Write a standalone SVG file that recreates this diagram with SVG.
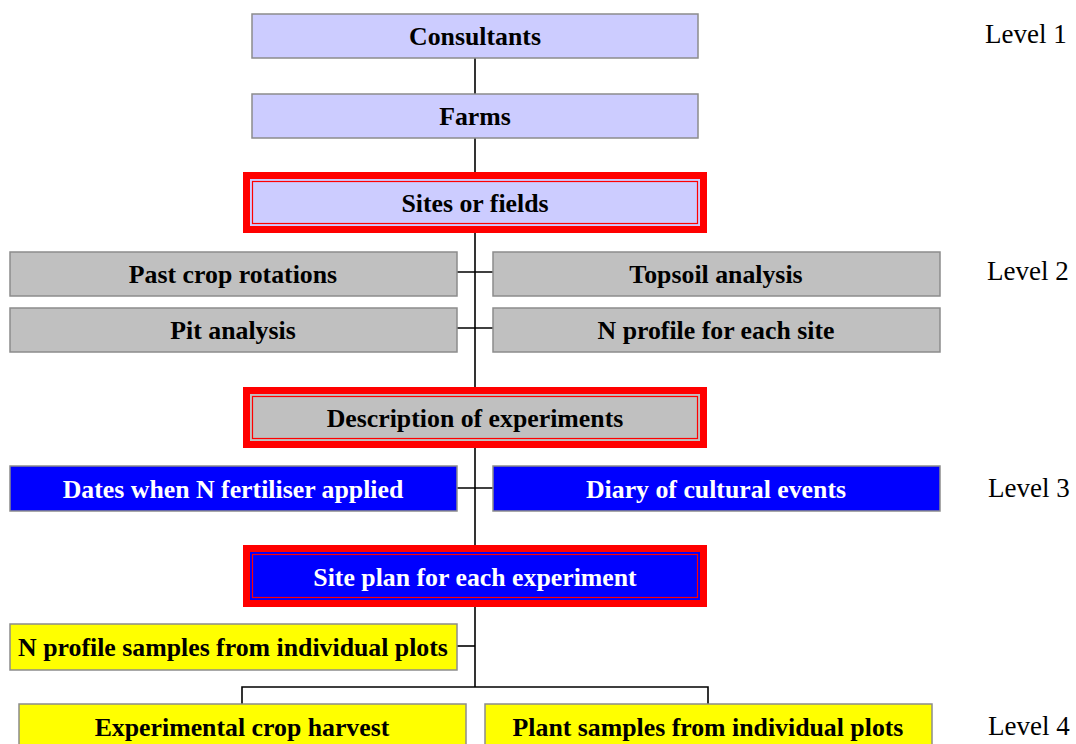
<svg xmlns="http://www.w3.org/2000/svg" width="1076" height="744" viewBox="0 0 1076 744">
<style>
.box{stroke:#8c8c8c;stroke-width:1.5}
.lav{fill:#ccccff}
.gry{fill:#c0c0c0}
.blu{fill:#0000ff}
.yel{fill:#ffff00}
.frame{fill:#ff0000}
.fline{fill:none;stroke:#ff0000;stroke-width:1.2}
.t{font-family:"Liberation Serif","Times New Roman",serif;font-weight:bold;font-size:25.8px;text-anchor:middle;fill:#000}
.w{fill:#fff}
.lvl{font-family:"Liberation Serif","Times New Roman",serif;font-size:27px;fill:#000}
.c{stroke:#000;stroke-width:1.6;fill:none}
</style>
<rect width="1076" height="744" fill="#fff"/>
<g id="connectors">
<line class="c" x1="475" y1="58" x2="475" y2="687"/>
<line class="c" x1="457" y1="272" x2="493" y2="272"/>
<line class="c" x1="457" y1="328" x2="493" y2="328"/>
<line class="c" x1="457" y1="488" x2="493" y2="488"/>
<line class="c" x1="457" y1="646" x2="475" y2="646"/>
<polyline class="c" points="242,704 242,687 708,687 708,704"/>
</g>
<g id="consultants">
<rect class="box lav" x="252" y="14" width="446" height="44"/>
<text class="t" x="475" y="45">Consultants</text>
</g>
<g id="farms">
<rect class="box lav" x="252" y="94" width="446" height="44"/>
<text class="t" x="475" y="125">Farms</text>
</g>
<g id="sites">
<rect class="frame" x="243" y="172" width="464" height="61"/>
<rect class="lav" x="250" y="179" width="450" height="47"/>
<rect class="fline" x="252.5" y="181.5" width="445" height="42"/>
<text class="t" x="475" y="212">Sites or fields</text>
</g>
<g id="past-crop">
<rect class="box gry" x="10" y="252" width="447" height="44"/>
<text class="t" x="233" y="283">Past crop rotations</text>
</g>
<g id="topsoil">
<rect class="box gry" x="493" y="252" width="447" height="44"/>
<text class="t" x="716" y="283">Topsoil analysis</text>
</g>
<g id="pit">
<rect class="box gry" x="10" y="308" width="447" height="44"/>
<text class="t" x="233" y="339">Pit analysis</text>
</g>
<g id="nprofile">
<rect class="box gry" x="493" y="308" width="447" height="44"/>
<text class="t" x="716" y="339">N profile for each site</text>
</g>
<g id="description">
<rect class="frame" x="243" y="387" width="464" height="61"/>
<rect class="gry" x="250" y="394" width="450" height="47"/>
<rect class="fline" x="252.5" y="396.5" width="445" height="42"/>
<text class="t" x="475" y="427">Description of experiments</text>
</g>
<g id="dates">
<rect class="box blu" x="10" y="466" width="447" height="45"/>
<text class="t w" x="233" y="498">Dates when N fertiliser applied</text>
</g>
<g id="diary">
<rect class="box blu" x="493" y="466" width="447" height="45"/>
<text class="t w" x="716" y="498">Diary of cultural events</text>
</g>
<g id="siteplan">
<rect class="frame" x="243" y="545" width="464" height="62"/>
<rect class="blu" x="250" y="552" width="450" height="48"/>
<rect class="fline" x="252.5" y="554.5" width="445" height="43"/>
<text class="t w" x="475" y="586">Site plan for each experiment</text>
</g>
<g id="nsamples">
<rect class="box yel" x="10" y="624" width="447" height="46"/>
<text class="t" x="233" y="656">N profile samples from individual plots</text>
</g>
<g id="harvest">
<rect class="box yel" x="19" y="704" width="447" height="48"/>
<text class="t" x="242" y="736">Experimental crop harvest</text>
</g>
<g id="plant">
<rect class="box yel" x="485" y="704" width="447" height="48"/>
<text class="t" x="708" y="736">Plant samples from individual plots</text>
</g>
<g id="levels">
<text class="lvl" x="985" y="43">Level 1</text>
<text class="lvl" x="987" y="280">Level 2</text>
<text class="lvl" x="988" y="497">Level 3</text>
<text class="lvl" x="988" y="735">Level 4</text>
</g>
</svg>
